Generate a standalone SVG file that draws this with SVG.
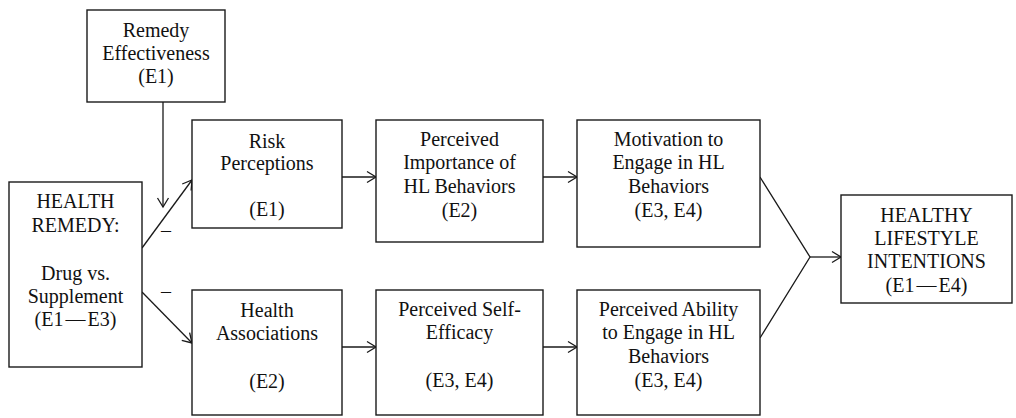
<svg xmlns="http://www.w3.org/2000/svg" width="1016" height="418" viewBox="0 0 1016 418">
<defs>
<marker id="arr" markerUnits="userSpaceOnUse" markerWidth="14" markerHeight="14" refX="12" refY="7" orient="auto" viewBox="0 0 14 14">
<polyline points="3,1.5 12,7 3,12.5" fill="none" stroke="#1a1a1a" stroke-width="1.3"/>
</marker>
</defs>
<rect width="1016" height="418" fill="#fff"/>
<g id="connectors" fill="none" stroke="#1a1a1a" stroke-width="1.3">
<line x1="163" y1="102" x2="163" y2="207" marker-end="url(#arr)"/>
<line x1="142" y1="248" x2="192" y2="180" marker-end="url(#arr)"/>
<line x1="142" y1="292" x2="192" y2="343" marker-end="url(#arr)"/>
<line x1="342" y1="177" x2="376" y2="177" marker-end="url(#arr)"/>
<line x1="543" y1="177" x2="577" y2="177" marker-end="url(#arr)"/>
<line x1="342" y1="347" x2="376" y2="347" marker-end="url(#arr)"/>
<line x1="543" y1="347" x2="577" y2="347" marker-end="url(#arr)"/>
<polyline points="760,177 810,257 760,338"/>
<line x1="810" y1="257" x2="841" y2="257" marker-end="url(#arr)"/>
<text x="166" y="237" font-family="Liberation Serif" font-size="20" fill="#111" stroke="none" text-anchor="middle">–</text>
<text x="166" y="298" font-family="Liberation Serif" font-size="20" fill="#111" stroke="none" text-anchor="middle">–</text>
</g>
<g id="nodes" font-family="Liberation Serif" font-size="20" fill="#111" text-anchor="middle">
<g id="remedy-effectiveness">
<rect x="87" y="10" width="138" height="92" fill="#fff" stroke="#1a1a1a" stroke-width="1.4"/>
<text x="156" y="37" font-family="Liberation Serif">Remedy</text>
<text x="156" y="60" font-family="Liberation Serif">Effectiveness</text>
<text x="156" y="83" font-family="Liberation Serif">(E1)</text>
</g>
<g id="health-remedy">
<rect x="9" y="182" width="133" height="185" fill="#fff" stroke="#1a1a1a" stroke-width="1.4"/>
<text x="75.5" y="208" font-family="Liberation Serif">HEALTH</text>
<text x="75.5" y="232" font-family="Liberation Serif">REMEDY:</text>
<text x="75.5" y="280" font-family="Liberation Serif">Drug vs.</text>
<text x="75.5" y="303" font-family="Liberation Serif">Supplement</text>
<text x="75.5" y="326" font-family="Liberation Serif">(E1<tspan dx="2">—</tspan><tspan dx="2">E3)</tspan></text>
</g>
<g id="risk-perceptions">
<rect x="192" y="120" width="150" height="108" fill="#fff" stroke="#1a1a1a" stroke-width="1.4"/>
<text x="267" y="148" font-family="Liberation Serif">Risk</text>
<text x="267" y="170" font-family="Liberation Serif">Perceptions</text>
<text x="267" y="216" font-family="Liberation Serif">(E1)</text>
</g>
<g id="health-associations">
<rect x="192" y="290" width="150" height="125" fill="#fff" stroke="#1a1a1a" stroke-width="1.4"/>
<text x="267" y="317" font-family="Liberation Serif">Health</text>
<text x="267" y="340" font-family="Liberation Serif">Associations</text>
<text x="267" y="388" font-family="Liberation Serif">(E2)</text>
</g>
<g id="perceived-importance">
<rect x="376" y="120" width="167" height="122" fill="#fff" stroke="#1a1a1a" stroke-width="1.4"/>
<text x="459.5" y="146" font-family="Liberation Serif">Perceived</text>
<text x="459.5" y="169" font-family="Liberation Serif">Importance of</text>
<text x="459.5" y="193" font-family="Liberation Serif">HL Behaviors</text>
<text x="459.5" y="217" font-family="Liberation Serif">(E2)</text>
</g>
<g id="perceived-self-efficacy">
<rect x="376" y="290" width="167" height="125" fill="#fff" stroke="#1a1a1a" stroke-width="1.4"/>
<text x="459.5" y="316" font-family="Liberation Serif">Perceived Self-</text>
<text x="459.5" y="339" font-family="Liberation Serif">Efficacy</text>
<text x="459.5" y="387" font-family="Liberation Serif">(E3, E4)</text>
</g>
<g id="motivation">
<rect x="577" y="120" width="183" height="127" fill="#fff" stroke="#1a1a1a" stroke-width="1.4"/>
<text x="668.5" y="146" font-family="Liberation Serif">Motivation to</text>
<text x="668.5" y="169" font-family="Liberation Serif">Engage in HL</text>
<text x="668.5" y="193" font-family="Liberation Serif">Behaviors</text>
<text x="668.5" y="217" font-family="Liberation Serif">(E3, E4)</text>
</g>
<g id="perceived-ability">
<rect x="577" y="290" width="183" height="125" fill="#fff" stroke="#1a1a1a" stroke-width="1.4"/>
<text x="668.5" y="316" font-family="Liberation Serif">Perceived Ability</text>
<text x="668.5" y="339" font-family="Liberation Serif">to Engage in HL</text>
<text x="668.5" y="363" font-family="Liberation Serif">Behaviors</text>
<text x="668.5" y="387" font-family="Liberation Serif">(E3, E4)</text>
</g>
<g id="healthy-lifestyle-intentions">
<rect x="841" y="195" width="171" height="108" fill="#fff" stroke="#1a1a1a" stroke-width="1.4"/>
<text x="926.5" y="222" font-family="Liberation Serif">HEALTHY</text>
<text x="926.5" y="245" font-family="Liberation Serif">LIFESTYLE</text>
<text x="926.5" y="268" font-family="Liberation Serif">INTENTIONS</text>
<text x="926.5" y="292" font-family="Liberation Serif">(E1<tspan dx="2">—</tspan><tspan dx="2">E4)</tspan></text>
</g>
</g>
</svg>
